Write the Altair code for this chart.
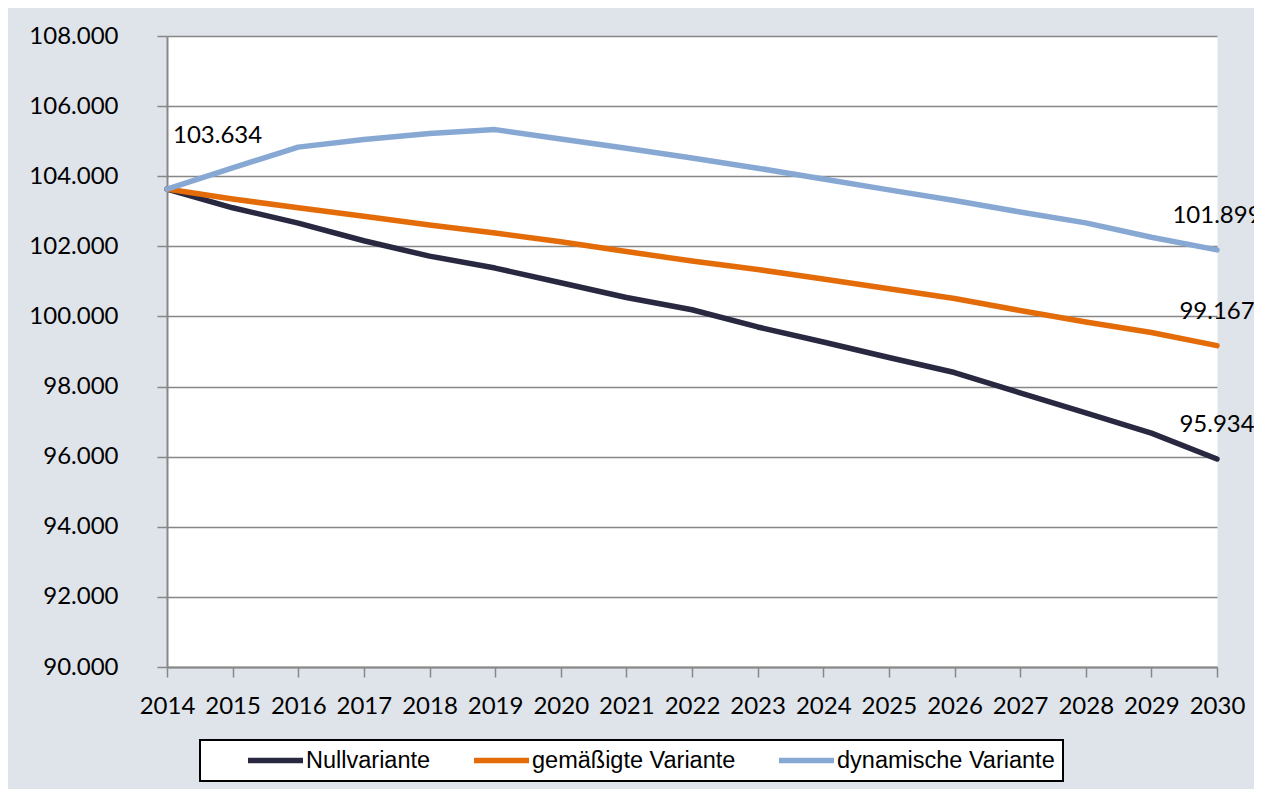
import altair as alt
import pandas as pd

years = list(range(2014, 2031))
series_names = ["Nullvariante", "gemäßigte Variante", "dynamische Variante"]
series_colors = ["#282841", "#e36c09", "#88a8d4"]

null_var = [103634, 103100, 102660, 102160, 101720, 101380, 100960, 100540, 100190,
            99700, 99270, 98830, 98400, 97820, 97250, 96670, 95934]
gem_var = [103634, 103350, 103100, 102860, 102610, 102380, 102130, 101850, 101580,
           101340, 101070, 100790, 100510, 100170, 99840, 99540, 99167]
dyn_var = [103634, 104240, 104830, 105050, 105220, 105330, 105060, 104800, 104520,
           104230, 103920, 103610, 103310, 102980, 102670, 102260, 101899]

y_ticks = list(range(90000, 108001, 2000))

rows = []
for name, vals in zip(series_names, [null_var, gem_var, dyn_var]):
    for yr, v in zip(years, vals):
        rows.append({"Jahr": yr, "Wert": v, "Variante": name})
df = pd.DataFrame(rows)

start_df = pd.DataFrame([{"Jahr": years[0], "Wert": dyn_var[0]}])
end_df = pd.DataFrame([
    {"Jahr": years[-1], "Wert": vals[-1]} for vals in [null_var, gem_var, dyn_var]
])

fmt = "replace(format(datum.Wert, ',.0f'), ',', '.')"

x_enc = alt.X("Jahr:Q",
              scale=alt.Scale(domain=[years[0], years[-1]], nice=False, zero=False),
              axis=alt.Axis(values=years, format="d", title=None, grid=False,
                            tickSize=10, labelPadding=17, labelFontSize=24,
                            labelFont="Lato", labelColor="#000000",
                            labelOverlap=False, labelFlush=False))
y_enc = alt.Y("Wert:Q",
              scale=alt.Scale(domain=[y_ticks[0], y_ticks[-1]], nice=False, zero=False),
              axis=alt.Axis(values=y_ticks, title=None, grid=True,
                            labelExpr="replace(format(datum.value, ',.0f'), ',', '.')",
                            tickSize=10, labelPadding=39, labelFontSize=24,
                            labelFont="Lato", labelColor="#000000"))

lines = alt.Chart(df).mark_line(strokeWidth=5.5, strokeCap="round", strokeJoin="round").encode(
    x=x_enc,
    y=y_enc,
    color=alt.Color("Variante:N",
                    scale=alt.Scale(domain=series_names, range=series_colors),
                    sort=series_names,
                    legend=alt.Legend(orient="none", legendX=33, legendY=704,
                                      direction="horizontal", title=None,
                                      symbolType="stroke", symbolSize=3025,
                                      symbolStrokeWidth=5.5, clipHeight=25,
                                      symbolOffset=37, labelOffset=0,
                                      columnPadding=3, padding=8,
                                      labelFont="Liberation Sans", labelFontSize=23.5,
                                      labelColor="#000000", labelLimit=400,
                                      fillColor="#ffffff", strokeColor="#000000")),
    order=alt.Order("Jahr:Q"),
)

start_lbl = alt.Chart(start_df).transform_calculate(lbl=fmt).mark_text(
    align="left", baseline="middle", dx=6, dy=-53, fontSize=24, font="Lato", color="#000000"
).encode(x="Jahr:Q", y="Wert:Q", text="lbl:N")

end_lbl = alt.Chart(end_df).transform_calculate(lbl=fmt).mark_text(
    align="center", baseline="middle", dy=-34, fontSize=24, font="Lato", color="#000000"
).encode(x="Jahr:Q", y="Wert:Q", text="lbl:N")

chart = alt.layer(lines, start_lbl, end_lbl).properties(
    width=1050, height=631,
    background="#dfe3ea",
    padding={"left": 159, "top": 28, "right": 37, "bottom": 122},
    autosize=alt.AutoSizeParams(type="none"),
).configure_view(
    fill="#ffffff", stroke="transparent"
).configure_axis(
    gridColor="#878787", gridWidth=1.5, gridOpacity=1,
    domainColor="#878787", domainWidth=2,
    tickColor="#878787", tickWidth=1.5,
).configure_legend(
    strokeWidth=2
)

chart.save("out.html", embed_options={"renderer": "svg", "actions": False})
